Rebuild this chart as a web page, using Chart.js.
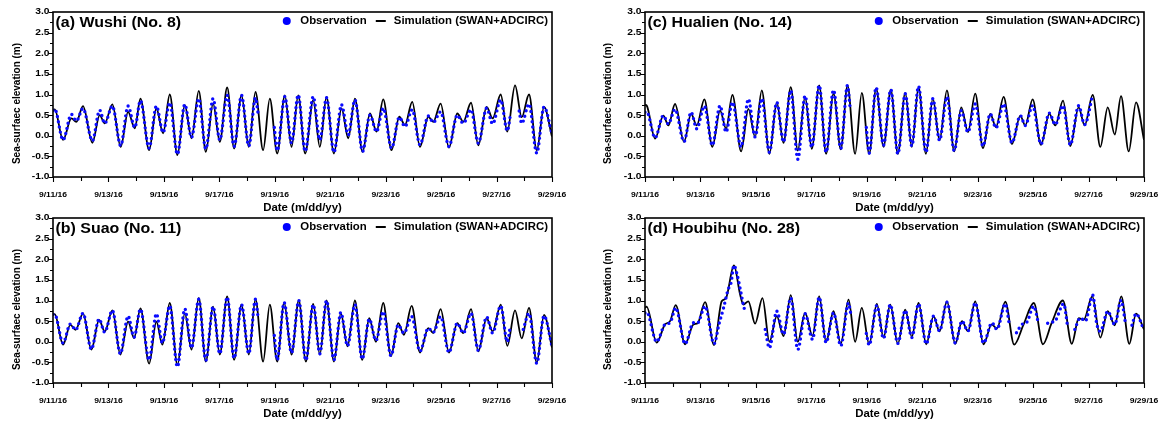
<!DOCTYPE html>
<html>
<head>
<meta charset="utf-8">
<script src="https://cdn.jsdelivr.net/npm/chart.js@4.4.1/dist/chart.umd.min.js"></script>
<style>
  html, body { margin: 0; padding: 0; background: #fff; }
  body { width: 1161px; height: 423px; position: relative; overflow: hidden; }
  canvas { position: absolute; }
</style>
</head>
<body>
<canvas id="pa" width="580" height="216" style="left:0;top:0"></canvas>
<canvas id="pb" width="580" height="217" style="left:0;top:206px"></canvas>
<canvas id="pc" width="571" height="216" style="left:590px;top:0"></canvas>
<canvas id="pd" width="571" height="217" style="left:590px;top:206px"></canvas>
<script>
// x values are hours after 9/11/16 00:00, y values are sea-surface elevation (m)
const dateLabels = ['9/11/16', '9/13/16', '9/15/16', '9/17/16', '9/19/16', '9/21/16', '9/23/16', '9/25/16', '9/27/16', '9/29/16'];
const yTickValues = [-1.0, -0.5, 0.0, 0.5, 1.0, 1.5, 2.0, 2.5, 3.0];
const stationTitles = ['(a) Wushi (No. 8)', '(b) Suao (No. 11)', '(c) Hualien (No. 14)', '(d) Houbihu (No. 28)'];
const legendLabels = ['Observation', 'Simulation (SWAN+ADCIRC)'];

const simA = [[0,0.6],[1.5,0.64],[8.7,-0.1],[15.9,0.42],[20.2,0.34],[26.0,0.72],[34.1,-0.17],[40.4,0.5],[44.8,0.3],[51.4,0.76],[58.6,-0.27],[65.0,0.58],[70.8,0.18],[75.7,0.9],[83.2,-0.35],[89.5,0.66],[95.3,0.06],[101.1,1.0],[107.7,-0.47],[114.1,0.74],[119.9,-0.06],[126.2,1.09],[132.3,-0.39],[138.6,0.78],[144.4,-0.15],[150.8,1.17],[156.8,-0.31],[163.2,0.98],[169.5,-0.27],[175.3,1.06],[181.9,-0.35],[187.7,0.9],[194.1,-0.43],[200.7,0.98],[206.5,-0.27],[212.3,0.98],[218.3,-0.43],[225.3,0.86],[231.0,-0.27],[236.8,0.94],[243.2,-0.43],[249.8,0.66],[255.6,-0.06],[261.4,0.9],[268.0,-0.39],[274.4,0.54],[280.1,0.1],[285.9,0.88],[293.1,-0.35],[299.8,0.46],[304.7,0.26],[311.0,0.82],[317.7,-0.27],[324.9,0.46],[329.2,0.34],[335.6,0.78],[342.8,-0.29],[350.0,0.54],[355.2,0.34],[361.9,0.8],[368.2,-0.23],[375.4,0.7],[380.6,0.42],[387.6,1.0],[393.3,0.1],[400.0,1.22],[405.8,0.45],[412.1,1.0],[418.8,-0.35],[425.1,0.7],[432,-0.02]];
const obsA = [[0,0.62],[1.5,0.65],[8.7,-0.1],[15.9,0.52],[20.2,0.36],[26.0,0.66],[34.1,-0.12],[40.4,0.62],[44.8,0.3],[51.4,0.72],[58.6,-0.24],[65.0,0.72],[70.8,0.2],[75.7,0.85],[83.2,-0.3],[89.5,0.72],[95.3,0.08],[101.1,0.8],[107.7,-0.45],[114.1,0.76],[119.9,-0.04],[126.2,0.9],[132.3,-0.32],[138.6,0.9],[144.4,-0.1],[150.8,0.98],[156.8,-0.26],[163.2,0.98],[169.5,-0.25],[175.3,0.92],[177.5,0.55],[178,null],[191.5,null],[191.6,0.2],[194.1,-0.36],[200.7,0.95],[206.5,-0.18],[212.3,0.99],[218.3,-0.38],[225.3,0.95],[231.0,-0.1],[236.8,0.92],[243.2,-0.4],[249.8,0.75],[255.6,0.02],[261.4,0.87],[268.0,-0.38],[274.4,0.5],[280.1,0.1],[285.9,0.67],[293.1,-0.3],[299.8,0.45],[304.7,0.22],[311.0,0.63],[317.7,-0.22],[324.9,0.48],[329.2,0.32],[335.6,0.58],[342.8,-0.26],[350.0,0.5],[355.2,0.3],[361.9,0.63],[368.2,-0.18],[375.4,0.67],[380.6,0.29],[387.6,0.87],[393.3,0.12],[396,0.5],[396.1,null],[403.5,null],[403.6,0.6],[405.8,0.3],[412.1,0.77],[418.8,-0.42],[425.1,0.7],[432,0.05]];

const simB = [[0,0.65],[1.5,0.67],[8.7,-0.07],[15.0,0.41],[19.6,0.29],[26.0,0.69],[33.2,-0.19],[39.9,0.53],[44.8,0.25],[51.4,0.76],[58.3,-0.31],[65.0,0.49],[70.2,0.09],[75.7,0.81],[83.2,-0.53],[89.5,0.49],[94.7,-0.07],[101.1,0.94],[107.7,-0.56],[114.1,0.69],[119.9,-0.19],[126.2,1.06],[132.3,-0.48],[138.6,0.85],[144.4,-0.31],[150.8,1.1],[156.8,-0.44],[163.2,0.9],[169.5,-0.31],[175.3,1.03],[181.9,-0.48],[187.7,0.9],[194.1,-0.48],[200.1,0.95],[206.5,-0.31],[212.8,1.0],[218.9,-0.48],[225.3,0.92],[231.0,-0.31],[236.8,1.0],[243.2,-0.48],[249.2,0.69],[255.0,-0.11],[261.4,1.0],[267.7,-0.44],[273.8,0.57],[279.6,0.0],[285.9,0.94],[292.6,-0.35],[298.9,0.45],[303.8,0.17],[310.5,0.87],[317.7,-0.26],[324.9,0.33],[329.2,0.21],[335.6,0.79],[342.8,-0.26],[350.0,0.45],[355.2,0.21],[361.9,0.79],[368.2,-0.23],[375.4,0.57],[380.6,0.25],[387.6,0.9],[393.3,-0.1],[400.0,0.76],[405.8,0.08],[412.1,0.82],[418.8,-0.5],[425.1,0.65],[432,-0.14]];
const obsB = [[0,0.66],[1.5,0.66],[8.7,-0.03],[15.0,0.43],[19.6,0.29],[26.0,0.69],[33.2,-0.18],[39.9,0.55],[44.8,0.23],[51.4,0.76],[58.3,-0.29],[65.0,0.62],[70.2,0.11],[75.7,0.79],[83.2,-0.44],[89.5,0.68],[94.7,-0.03],[101.1,0.87],[107.7,-0.61],[114.1,0.8],[119.9,-0.15],[126.2,1.03],[132.3,-0.45],[138.6,0.85],[144.4,-0.29],[150.8,1.08],[156.8,-0.4],[163.2,0.9],[169.5,-0.29],[175.3,1.03],[177.5,0.6],[178,null],[191.5,null],[191.6,0.15],[194.1,-0.44],[200.1,0.95],[206.5,-0.27],[212.8,1.0],[218.9,-0.45],[225.3,0.9],[231.0,-0.29],[236.8,1.0],[243.2,-0.44],[249.2,0.71],[255.0,-0.1],[261.4,0.9],[267.7,-0.42],[273.8,0.55],[279.6,0.03],[285.9,0.73],[292.6,-0.34],[298.9,0.41],[303.8,0.21],[310.5,0.61],[317.7,-0.23],[324.9,0.33],[329.2,0.23],[335.6,0.61],[342.8,-0.26],[350.0,0.45],[355.2,0.21],[361.9,0.69],[368.2,-0.21],[375.4,0.6],[380.6,0.21],[387.6,0.87],[393.3,0.0],[396,0.4],[396.1,null],[407,null],[407.1,0.3],[412.1,0.69],[418.8,-0.52],[425.1,0.63],[432,-0.11]];

const simC = [[0,0.75],[1.5,0.73],[8.7,-0.07],[15.9,0.49],[20.2,0.25],[26.0,0.77],[33.8,-0.15],[39.9,0.53],[44.8,0.25],[51.4,0.88],[58.3,-0.27],[65.0,0.61],[70.2,0.17],[75.7,0.99],[83.2,-0.38],[89.5,0.65],[95.3,-0.03],[101.1,1.1],[107.7,-0.44],[114.1,0.81],[119.9,-0.17],[126.2,1.18],[132.3,-0.36],[138.6,0.94],[144.4,-0.32],[150.8,1.22],[156.8,-0.44],[163.2,1.02],[169.5,-0.33],[175.3,1.22],[181.9,-0.44],[187.7,1.04],[194.1,-0.44],[200.1,1.15],[206.5,-0.27],[212.8,1.12],[218.9,-0.44],[225.3,1.04],[231.0,-0.27],[236.8,1.18],[243.2,-0.44],[249.2,0.9],[255.0,-0.11],[261.4,1.1],[267.7,-0.38],[273.8,0.69],[279.6,0.09],[285.9,1.02],[292.6,-0.3],[298.9,0.53],[303.8,0.21],[310.5,0.94],[317.7,-0.2],[324.9,0.49],[329.2,0.25],[335.6,0.88],[342.8,-0.22],[350.0,0.53],[355.2,0.25],[361.9,0.85],[368.2,-0.25],[375.4,0.69],[380.6,0.25],[387.6,0.99],[394.2,-0.27],[400.6,0.69],[406.7,0.03],[412.1,0.96],[418.8,-0.38],[425.1,0.81],[432,-0.1]];
const obsC = [[0,0.57],[1.5,0.58],[8.7,-0.05],[15.9,0.49],[20.2,0.29],[26.0,0.64],[33.8,-0.14],[39.9,0.57],[44.8,0.17],[51.4,0.72],[58.3,-0.23],[65.0,0.73],[70.2,0.09],[75.7,0.81],[83.2,-0.27],[89.5,0.89],[95.3,-0.03],[101.1,0.9],[107.7,-0.4],[114.1,0.81],[119.9,-0.15],[126.2,1.1],[132.3,-0.57],[138.6,0.97],[144.4,-0.28],[150.8,1.22],[156.8,-0.4],[163.2,1.11],[169.5,-0.31],[175.3,1.22],[177.5,0.7],[178,null],[191.5,null],[191.6,0.2],[194.1,-0.42],[200.1,1.17],[206.5,-0.23],[212.8,1.12],[218.9,-0.44],[225.3,1.02],[231.0,-0.25],[236.8,1.2],[243.2,-0.4],[249.2,0.9],[255.0,-0.11],[261.4,0.94],[267.7,-0.36],[273.8,0.61],[279.6,0.09],[285.9,0.77],[292.6,-0.25],[298.9,0.53],[303.8,0.19],[310.5,0.77],[317.7,-0.17],[324.9,0.49],[329.2,0.25],[335.6,0.73],[342.8,-0.2],[350.0,0.55],[355.2,0.27],[361.9,0.73],[368.2,-0.22],[375.4,0.73],[380.6,0.27],[387.6,0.99]];

const simD = [[0,0.82],[1.4,0.85],[10.1,-0.02],[17.3,0.42],[21.7,0.5],[26.6,0.89],[34.7,-0.06],[41.9,0.42],[45.6,0.45],[52.0,0.96],[59.8,-0.08],[66.4,0.98],[70,1.05],[77,1.85],[82.3,1.15],[85.2,0.9],[89.5,0.98],[95.3,0.44],[101.7,1.06],[107.7,0.0],[114.1,0.62],[119.9,0.14],[126.2,1.13],[132.3,0.0],[138.6,0.7],[145.0,0.14],[150.8,1.1],[156.8,0.0],[163.2,0.74],[169.5,-0.05],[176.2,1.02],[181.9,0.0],[187.7,0.82],[194.1,-0.06],[200.7,0.92],[206.5,0.1],[212.3,0.9],[218.9,-0.05],[225.3,0.78],[231.0,0.12],[236.8,0.94],[243.5,-0.06],[249.8,0.62],[255.0,0.25],[261.4,0.98],[268.6,-0.05],[274.4,0.5],[279.6,0.26],[285.9,0.98],[293.1,-0.06],[300.1,0.42],[304.7,0.32],[311.9,0.97],[319.6,-0.07],[327.6,0.41],[336.6,0.94],[344.5,-0.06],[352,0.45],[361.8,1.0],[369.5,-0.05],[375.5,0.57],[379.8,0.53],[387.2,1.1],[394.2,0.1],[400.6,0.74],[406.7,0.4],[412.3,1.1],[419.3,-0.05],[425.1,0.68],[432,0.3]];
const obsD = [[0,0.7],[1.4,0.72],[10.1,0.0],[17.3,0.42],[21.7,0.46],[26.6,0.82],[34.7,-0.05],[41.9,0.46],[45.6,0.46],[52.0,0.86],[59.8,-0.05],[64,0.42],[68,0.82],[72,1.27],[74.5,1.43],[77,1.85],[80,1.6],[83,1.2],[86,0.8],[87,0.75],[87.1,null],[104,null],[104.1,0.3],[107.7,-0.15],[114.1,0.74],[119.9,0.18],[126.2,1.06],[132.3,-0.19],[138.6,0.68],[145.0,0.06],[150.8,1.08],[156.8,-0.02],[163.2,0.7],[169.5,-0.1],[176.2,0.94],[178,0.7],[178.1,null],[191.5,null],[191.6,0.2],[194.1,-0.08],[200.7,0.88],[206.5,0.08],[212.3,0.9],[218.9,-0.04],[225.3,0.76],[231.0,0.1],[236.8,0.92],[243.5,-0.05],[249.8,0.62],[255.0,0.26],[261.4,0.96],[268.6,-0.03],[274.4,0.5],[279.6,0.26],[285.9,0.94],[293.1,-0.03],[300.4,0.46],[304.7,0.3],[311.9,0.92],[315.5,0.4],[315.6,null],[321.5,null],[321.6,0.22],[326.3,0.42],[330.7,0.48],[336.5,0.86],[340.8,0.42],[341,null],[348.5,null],[348.6,0.45],[352,0.47],[355.5,0.52],[362.4,0.92],[366,0.35],[366.1,null],[372,null],[372.1,0.3],[376.9,0.58],[381.2,0.5],[387.6,1.13],[391,0.45],[394.2,0.25],[400.6,0.74],[406.7,0.42],[412.1,1.0],[416,0.45],[416.1,null],[421.5,null],[421.6,0.4],[425.1,0.68],[432,0.28]];

const FONT = 'Arial, "Liberation Sans", Helvetica, sans-serif';
const SX = 1.14; // the source figure is stretched sideways a little

function toXY(arr) { return arr.map(p => ({ x: p[0], y: p[1] })); }

function wideText(ctx, text, x, y, size, align) {
  ctx.save();
  ctx.font = `bold ${size}px ${FONT}`;
  ctx.translate(x, y);
  ctx.scale(SX, 1);
  ctx.textAlign = align || 'left';
  ctx.textBaseline = 'middle';
  ctx.fillText(text, 0, 0);
  ctx.restore();
}

function wideWidth(ctx, text, size) {
  ctx.font = `bold ${size}px ${FONT}`;
  return ctx.measureText(text).width * SX;
}

const decorate = {
  id: 'decorate',
  afterDraw(chart, args, opts) {
    const { ctx, chartArea: a, scales: { x, y } } = chart;
    ctx.save();
    ctx.fillStyle = '#000';
    ctx.strokeStyle = '#000';

    // ticks
    ctx.lineWidth = 1.1;
    ctx.beginPath();
    yTickValues.forEach((v, i) => {
      const py = Math.round(y.getPixelForValue(v)) + 0.5;
      ctx.moveTo(a.left - 4, py); ctx.lineTo(a.left, py);
      if (i < yTickValues.length - 1) {
        const pm = Math.round(y.getPixelForValue(v + 0.25)) + 0.5;
        ctx.moveTo(a.left - 3, pm); ctx.lineTo(a.left, pm);
      }
    });
    dateLabels.forEach((d, i) => {
      const px = Math.round(x.getPixelForValue(i * 48)) + 0.5;
      ctx.moveTo(px, a.bottom); ctx.lineTo(px, a.bottom + 5);
      if (i < dateLabels.length - 1) {
        const pm = Math.round(x.getPixelForValue(i * 48 + 24)) + 0.5;
        ctx.moveTo(pm, a.bottom); ctx.lineTo(pm, a.bottom + 4);
      }
    });
    ctx.stroke();

    // frame
    ctx.lineWidth = 1.6;
    ctx.strokeRect(a.left, a.top, a.right - a.left, a.bottom - a.top);

    // tick labels
    yTickValues.forEach(v => wideText(ctx, v.toFixed(1), a.left - 3.5, y.getPixelForValue(v), 9, 'right'));
    dateLabels.forEach((d, i) => wideText(ctx, d, x.getPixelForValue(i * 48), a.bottom + 18, 7.5, 'center'));

    // axis titles
    wideText(ctx, 'Date (m/dd/yy)', (a.left + a.right) / 2, a.bottom + 31.5, 10, 'center');
    ctx.save();
    ctx.translate(opts.yTitleX, (a.top + a.bottom) / 2 + 9);
    ctx.rotate(-Math.PI / 2);
    ctx.font = `bold 10px ${FONT}`;
    ctx.textAlign = 'center';
    ctx.textBaseline = 'middle';
    ctx.fillText('Sea-surfaec elevation (m)', 0, 0);
    ctx.restore();

    // station title
    wideText(ctx, opts.title, a.left + 2.5, a.top + 11, 14, 'left');

    // legend
    const ly = a.top + 9;
    const simEnd = a.right - 4;
    const simStart = simEnd - wideWidth(ctx, legendLabels[1], 10);
    wideText(ctx, legendLabels[1], simStart, ly, 10, 'left');
    ctx.lineWidth = 2;
    ctx.beginPath();
    ctx.moveTo(simStart - 18, ly); ctx.lineTo(simStart - 8, ly);
    ctx.stroke();
    const obsEnd = simStart - 27;
    const obsStart = obsEnd - wideWidth(ctx, legendLabels[0], 10);
    wideText(ctx, legendLabels[0], obsStart, ly, 10, 'left');
    ctx.fillStyle = '#0000ff';
    ctx.beginPath();
    ctx.arc(obsStart - 13.5, ly, 4, 0, Math.PI * 2);
    ctx.fill();
    ctx.restore();
  }
};

function makePanel(id, sim, obs, title, pad, yTitleX) {
  new Chart(document.getElementById(id), {
    type: 'line',
    data: {
      datasets: [
        {
          label: legendLabels[0],
          data: toXY(obs),
          borderColor: '#0a0aff',
          borderWidth: 3.4,
          borderDash: [0, 5.2],
          borderCapStyle: 'round',
          pointRadius: 0,
          cubicInterpolationMode: 'monotone',
          spanGaps: false,
          fill: false,
          order: 0
        },
        {
          label: legendLabels[1],
          data: toXY(sim),
          borderColor: '#000',
          borderWidth: 1.8,
          pointRadius: 0,
          cubicInterpolationMode: 'monotone',
          fill: false,
          order: 1
        }
      ]
    },
    options: {
      responsive: false,
      animation: false,
      events: [],
      layout: { padding: pad },
      scales: {
        x: { type: 'linear', min: 0, max: 432, display: false },
        y: { type: 'linear', min: -1, max: 3, display: false }
      },
      plugins: {
        legend: { display: false },
        tooltip: { enabled: false },
        decorate: { title, yTitleX }
      }
    },
    plugins: [decorate]
  });
}

makePanel('pa', simA, obsA, stationTitles[0], { left: 53, right: 28, top: 12, bottom: 39 }, 17);
makePanel('pb', simB, obsB, stationTitles[1], { left: 53, right: 28, top: 12, bottom: 40 }, 17);
makePanel('pc', simC, obsC, stationTitles[2], { left: 55, right: 17, top: 12, bottom: 39 }, 18);
makePanel('pd', simD, obsD, stationTitles[3], { left: 55, right: 17, top: 12, bottom: 40 }, 18);
</script>
</body>
</html>
